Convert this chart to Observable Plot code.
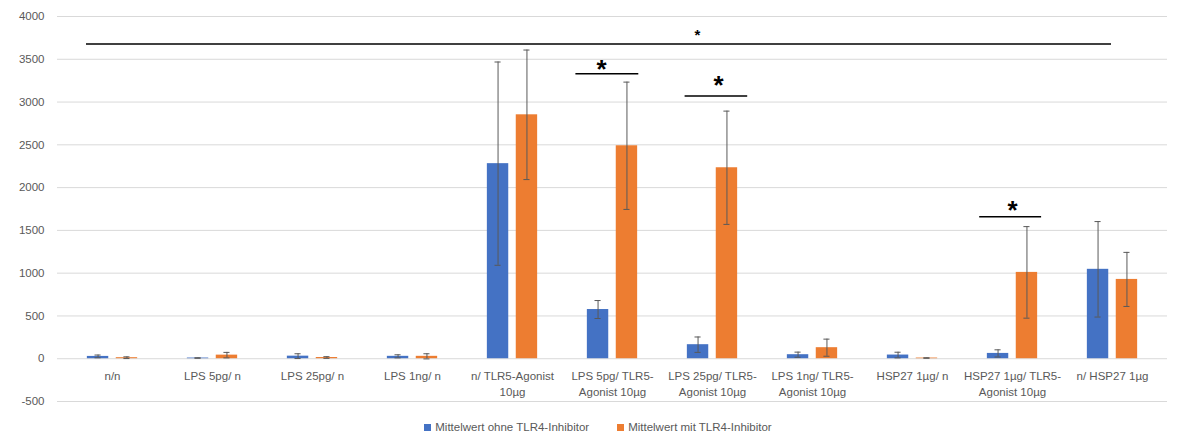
<!DOCTYPE html>
<html><head><meta charset="utf-8">
<script src="https://cdn.jsdelivr.net/npm/d3@7"></script>
<script src="https://cdn.jsdelivr.net/npm/@observablehq/plot@0.6"></script>
<style>
body{margin:0;background:#fff;font-family:"Liberation Sans",Arial,sans-serif;}
#legend{display:flex;justify-content:center;gap:28px;font-size:11.5px;color:#595959;height:30px;align-items:center;}
#legend span.item{display:inline-flex;align-items:center;}
.sw{display:inline-block;width:7px;height:7px;margin-right:4px}
</style></head><body><div id="chart"></div><div id="legend"></div>
<script>
const categories = ["n/n","LPS 5pg/ n","LPS 25pg/ n","LPS 1ng/ n","n/ TLR5-Agonist 10µg","LPS 5pg/ TLR5-Agonist 10µg","LPS 25pg/ TLR5-Agonist 10µg","LPS 1ng/ TLR5-Agonist 10µg","HSP27 1µg/ n","HSP27 1µg/ TLR5-Agonist 10µg","n/ HSP27 1µg"];
const tickLabels = ["n/n","LPS 5pg/ n","LPS 25pg/ n","LPS 1ng/ n","n/ TLR5-Agonist\n10µg","LPS 5pg/ TLR5-\nAgonist 10µg","LPS 25pg/ TLR5-\nAgonist 10µg","LPS 1ng/ TLR5-\nAgonist 10µg","HSP27 1µg/ n","HSP27 1µg/ TLR5-\nAgonist 10µg","n/ HSP27 1µg"];
const seriesNames = ["Mittelwert ohne TLR4-Inhibitor","Mittelwert mit TLR4-Inhibitor"];
const meanWithout = [27, 8, 30, 28, 2280, 575, 164, 47, 43, 62, 1045];
const errWithout  = [16, 3, 28, 18, 1188, 105, 90, 30, 33, 42, 558];
const meanWith    = [12, 42, 14, 28, 2851, 2489, 2232, 129, 8, 1009, 927];
const errWith     = [10, 32, 10, 30, 757, 744, 662, 100, 3, 535, 316];
const yTicks = [-500, 0, 500, 1000, 1500, 2000, 2500, 3000, 3500, 4000];
// significance brackets: category, y value
const sigLines = [
  {cat: "LPS 5pg/ TLR5-Agonist 10µg", y: 3330},
  {cat: "LPS 25pg/ TLR5-Agonist 10µg", y: 3070},
  {cat: "HSP27 1µg/ TLR5-Agonist 10µg", y: 1660}
];
const bigLine = {from: "n/n", to: "n/ HSP27 1µg", y: 3680};
const stars = [
  {cat: "LPS 5pg/ TLR5-Agonist 10µg", y: 3400},
  {cat: "LPS 25pg/ TLR5-Agonist 10µg", y: 3220},
  {cat: "HSP27 1µg/ TLR5-Agonist 10µg", y: 1750},
  {cat: "LPS 25pg/ TLR5-Agonist 10µg", y: 3780}
];

const colors = ["#4472C4", "#ED7D31"];
const W = 1196, H = 412, mL = 57, mR = 29, mT = 16, mB = 11;
const bw = (W - mL - mR) / categories.length;
const barW = 22.3, off = 14.45, capHalf = 3.5;
const rows = categories.map((c, i) => ({cat: c, s: 0, m: meanWithout[i], e: errWithout[i]}))
  .concat(categories.map((c, i) => ({cat: c, s: 1, m: meanWith[i], e: errWith[i]})));

const marks = [
  Plot.gridY(yTicks, {stroke: "#d9d9d9", strokeOpacity: 1}),
  Plot.axisY(yTicks, {tickSize: 0, tickPadding: 13, fontSize: 11.5, fill: "#595959", label: null, tickFormat: d => String(d)})
];
[0, 1].forEach(s => {
  const sign = s === 0 ? -1 : 1;
  const center = bw / 2 + sign * off;
  const data = rows.filter(r => r.s === s);
  marks.push(Plot.barY(data, {x: "cat", y: "m", fill: colors[s], insetLeft: center - barW / 2, insetRight: bw - center - barW / 2}));
  marks.push(Plot.ruleX(data, {x: "cat", y1: d => d.m - d.e, y2: d => d.m + d.e, dx: sign * off, stroke: "#595959", strokeWidth: 1}));
  marks.push(Plot.tickY(data, {x: "cat", y: d => d.m + d.e, insetLeft: center - capHalf, insetRight: bw - center - capHalf, stroke: "#595959", strokeWidth: 1}));
  marks.push(Plot.tickY(data, {x: "cat", y: d => d.m - d.e, insetLeft: center - capHalf, insetRight: bw - center - capHalf, stroke: "#595959", strokeWidth: 1}));
});
marks.push(Plot.text(categories, {x: d => d, y: () => 0, text: (d, i) => tickLabels[i], dy: 9, lineAnchor: "top", lineHeight: 1.45, fontSize: 11.5, fill: "#595959"}));
const sigInsets = [[13.4, 23.7], [22.6, 14.8], [17.2, 20.9]];
sigLines.forEach((l, i) => {
  marks.push(Plot.tickY([l], {x: "cat", y: "y", insetLeft: sigInsets[i][0], insetRight: sigInsets[i][1], stroke: "#000", strokeWidth: 1.5}));
});
marks.push(Plot.ruleY([bigLine], {x1: "from", x2: "to", y: "y", insetLeft: 24, insetRight: 51, stroke: "#000", strokeWidth: 1.5}));
const starDx = [-11, 6, 0, -15];
const starSize = [26, 26, 26, 15];
const starDy = [2, 2, 2, 0];
stars.forEach((s, i) => {
  marks.push(Plot.text([s], {x: "cat", y: "y", text: () => "*", dx: starDx[i], dy: starDy[i], fontSize: starSize[i], fontWeight: "bold", fill: "#000", lineAnchor: "middle"}));
});

const chart = Plot.plot({
  width: W, height: H, marginLeft: mL, marginRight: mR, marginTop: mT, marginBottom: mB,
  style: {fontFamily: '"Liberation Sans", Arial, sans-serif', background: "#fff"},
  x: {type: "band", domain: categories, padding: 0, axis: null},
  y: {domain: [-500, 4000], axis: null},
  marks
});
document.getElementById("chart").appendChild(chart);
const leg = document.getElementById("legend");
seriesNames.forEach((n, i) => {
  const it = document.createElement("span"); it.className = "item";
  const sw = document.createElement("span"); sw.className = "sw"; sw.style.background = colors[i];
  it.appendChild(sw); it.appendChild(document.createTextNode(n)); leg.appendChild(it);
});
</script></body></html>
